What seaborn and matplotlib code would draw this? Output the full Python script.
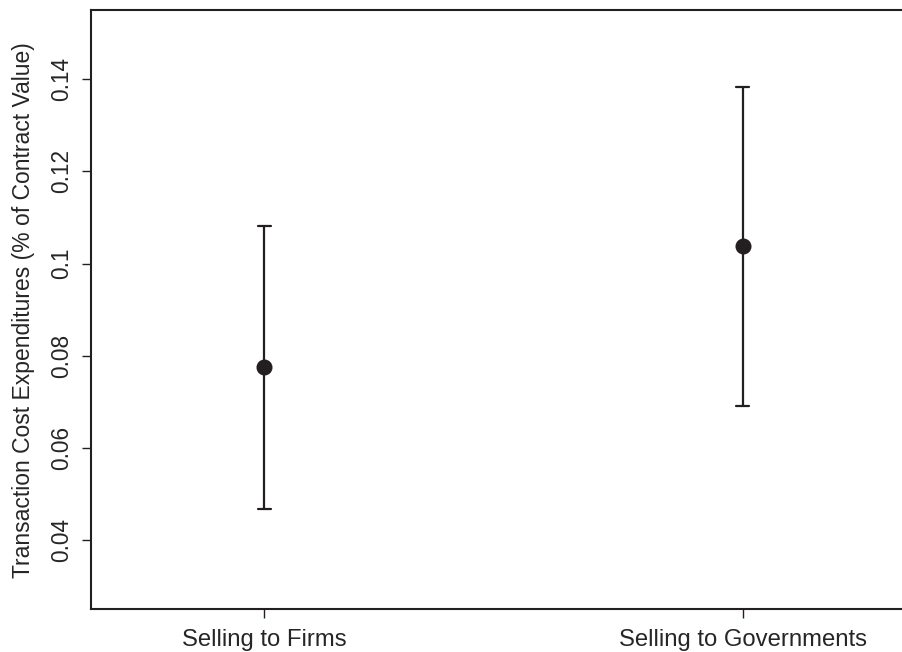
import numpy as np
import pandas as pd
import seaborn as sns
import matplotlib.pyplot as plt

# Values
groups = ["Selling to Firms", "Selling to Governments"]
lower = [0.0467, 0.0691]
point = [0.0775, 0.1037]
upper = [0.1082, 0.1384]
ytick_vals = [0.04, 0.06, 0.08, 0.10, 0.12, 0.14]
ytick_text = ["0.04", "0.06", "0.08", "0.1", "0.12", "0.14"]

# long form: median of (lo, est, hi) gives the point, full range gives the bar
rows = []
for g, lo, est, hi in zip(groups, lower, point, upper):
    for v in (lo, est, hi):
        rows.append({"group": g, "value": v})
df = pd.DataFrame(rows)

sns.set_theme(style="white")
plt.rcParams["font.family"] = ["Liberation Sans", "DejaVu Sans"]
ink = "#231f20"
txt = "#262626"

fig = plt.figure(figsize=(9.03, 6.52), dpi=100)
ax = fig.add_axes([0.1004, 0.0655, 0.9018, 0.9192])

sns.pointplot(data=df, x="group", y="value", estimator=np.median,
              errorbar=("pi", 100), color=ink, linestyle="none",
              markers="o", markersize=9.5, capsize=0.027,
              err_kws={"linewidth": 1.6}, ax=ax)

ax.set_xlim(-0.363, 1.339)
ax.set_ylim(0.025, 0.155)
ax.set_yticks(ytick_vals)
ax.set_yticklabels(ytick_text, rotation=90, va="center", fontsize=16.3, color=txt)
ax.set_xticks([0, 1])
ax.set_xticklabels(groups, fontsize=17.2, color=txt)
ax.set_xlabel("")
ax.set_ylabel("Transaction Cost Expenditures (% of Contract Value)",
              fontsize=16.5, color=txt, labelpad=11)

for side in ["left", "bottom", "top"]:
    ax.spines[side].set_color(ink)
    ax.spines[side].set_linewidth(1.5)
ax.spines["right"].set_visible(False)
ax.tick_params(axis="both", which="major", length=6.5, width=1.0,
               color=ink, direction="out", bottom=True, left=True)
ax.tick_params(axis="x", pad=8)
ax.tick_params(axis="y", pad=6)

fig.savefig("out.png", dpi=100)
